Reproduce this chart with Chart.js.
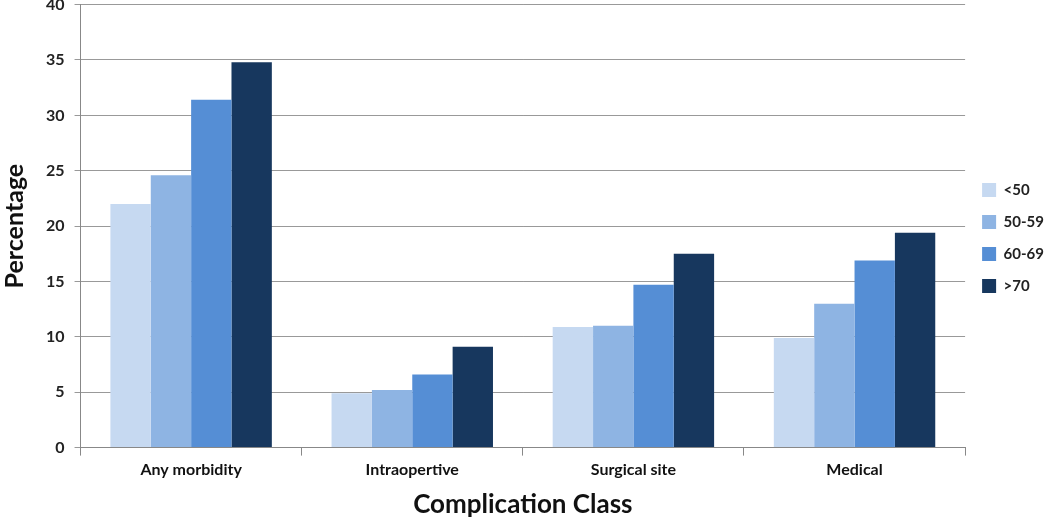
<!DOCTYPE html>
<html>
<head>
<meta charset="utf-8">
<script src="https://cdn.jsdelivr.net/npm/chart.js@4.4.1/dist/chart.umd.min.js"></script>
<style>
  html, body { margin: 0; padding: 0; background: #fff; overflow: hidden; }
  #wrap { width: 1056px; height: 535px; margin-top: -15px; }
</style>
</head>
<body>
<div id="wrap"><canvas id="chart"></canvas></div>
<script>
const categories = ['Any morbidity', 'Intraopertive', 'Surgical site', 'Medical'];
const ageGroups = ['<50', '50-59', '60-69', '>70'];
const under50 = [22.0, 4.9, 10.9, 9.9];
const age50to59 = [24.6, 5.2, 11.0, 13.0];
const age60to69 = [31.4, 6.6, 14.7, 16.9];
const over70 = [34.8, 9.1, 17.5, 19.4];
const colors = ['#C6D9F1', '#8EB4E3', '#558ED5', '#17375E'];

const font = "'Lato', 'Open Sans', sans-serif";
const series = [under50, age50to59, age60to69, over70];

new Chart(document.getElementById('chart'), {
  type: 'bar',
  data: {
    labels: categories,
    datasets: series.map((vals, i) => ({
      label: ageGroups[i],
      data: vals,
      backgroundColor: colors[i],
      borderWidth: 0,
      categoryPercentage: 0.73,
      barPercentage: 1.0
    }))
  },
  options: {
    responsive: true,
    maintainAspectRatio: false,
    animation: false,
    layout: { padding: { top: 0, right: 2, left: 0, bottom: 0 } },
    plugins: {
      tooltip: { enabled: false },
      legend: {
        position: 'right',
        fullSize: false,
        title: { display: true, text: '', font: { size: 10 }, padding: { top: 6, bottom: 6 } },
        labels: {
          boxWidth: 14,
          boxHeight: 14,
          padding: 17,
          color: '#222',
          font: { family: font, size: 15, weight: 'bold' }
        }
      }
    },
    scales: {
      x: {
        grid: { display: true, drawOnChartArea: false, offset: true, color: '#888', tickLength: 8 },
        border: { color: '#888' },
        ticks: { color: '#111', padding: 5, font: { family: font, size: 16, weight: 'bold' } },
        title: {
          display: true,
          text: 'Complication Class',
          color: '#111',
          padding: { top: 4, bottom: 0 },
          font: { family: font, size: 26, weight: 'bold' }
        }
      },
      y: {
        min: 0,
        max: 40,
        ticks: { stepSize: 5, color: '#222', padding: 10, font: { family: font, size: 16, weight: 'bold' } },
        grid: { color: '#999', tickLength: 6 },
        border: { color: '#888' },
        title: {
          display: true,
          text: 'Percentage',
          color: '#111',
          padding: { top: 0, bottom: 6 },
          font: { family: font, size: 25, weight: 'bold' }
        }
      }
    }
  }
});
</script>
</body>
</html>
